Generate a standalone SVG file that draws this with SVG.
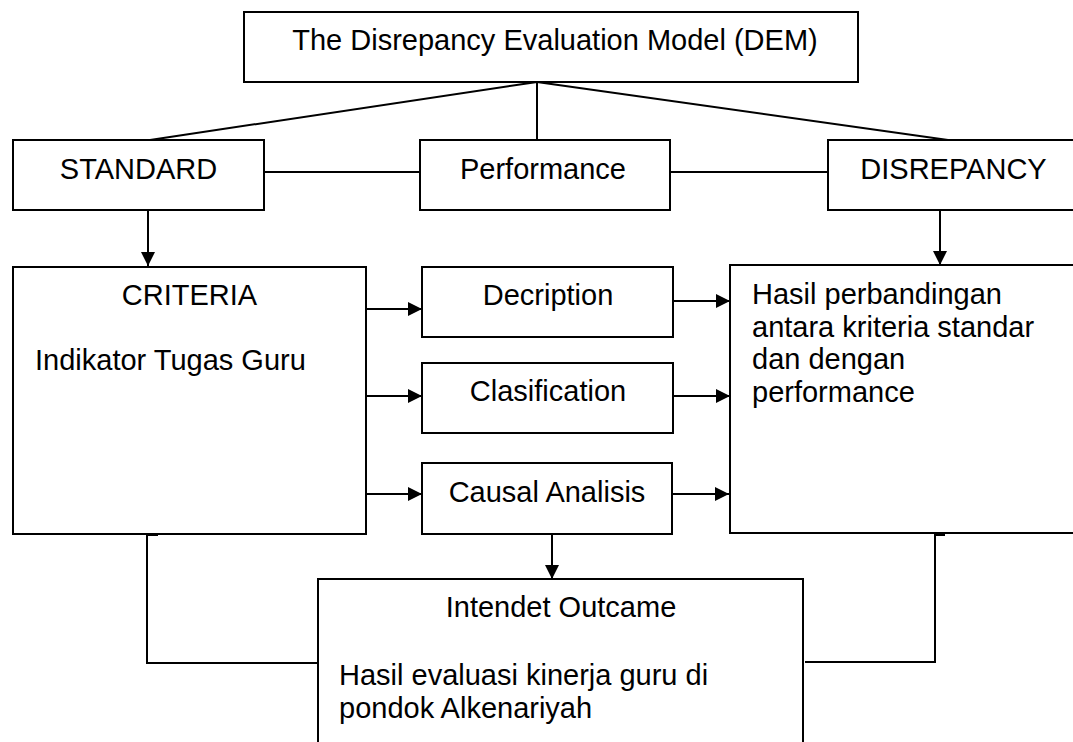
<svg xmlns="http://www.w3.org/2000/svg" width="1073" height="742" viewBox="0 0 1073 742">
<defs>
<style>
.box{fill:#fff;stroke:#000;stroke-width:2}
.ln{fill:none;stroke:#000;stroke-width:2}
.ar{fill:none;stroke:#000;stroke-width:2;marker-end:url(#ah)}
text{font-family:"Liberation Sans",Arial,sans-serif;font-size:29px;fill:#000}
.c{text-anchor:middle}
</style>
<marker id="ah" viewBox="0 0 14 14" refX="14" refY="7" markerWidth="14" markerHeight="14" markerUnits="userSpaceOnUse" orient="auto">
<path d="M0,0 L14,7 L0,14 Z" fill="#000"/>
</marker>
</defs>
<rect width="1073" height="742" fill="#fff"/>
<g id="connectors">
<line class="ln" x1="537" y1="82" x2="150" y2="140"/>
<line class="ln" x1="537" y1="82" x2="537" y2="140"/>
<line class="ln" x1="537" y1="82" x2="948" y2="140"/>
<line class="ln" x1="264" y1="172" x2="422" y2="172"/>
<line class="ln" x1="670" y1="172" x2="828" y2="172"/>
<line class="ar" x1="148" y1="210" x2="148" y2="266"/>
<line class="ar" x1="940" y1="210" x2="940" y2="265"/>
<line class="ar" x1="366" y1="309" x2="422" y2="309"/>
<line class="ar" x1="366" y1="396" x2="422" y2="396"/>
<line class="ar" x1="366" y1="494" x2="422" y2="494"/>
<line class="ar" x1="673" y1="301" x2="730" y2="301"/>
<line class="ar" x1="673" y1="396" x2="730" y2="396"/>
<line class="ar" x1="672" y1="494" x2="729" y2="494"/>
<line class="ar" x1="552" y1="534" x2="552" y2="579"/>
<path class="ln" d="M158,535 H147 V663 H318"/>
<path class="ln" d="M945,535 H935 V662 H805"/>
</g>
<g id="dem">
<rect class="box" x="244" y="12" width="614" height="70"/>
<text class="c" x="555" y="50">The Disrepancy Evaluation Model (DEM)</text>
</g>
<g id="standard">
<rect class="box" x="13" y="140" width="251" height="70"/>
<text class="c" x="138.5" y="179">STANDARD</text>
</g>
<g id="performance">
<rect class="box" x="420" y="140" width="250" height="70"/>
<text class="c" x="543" y="179">Performance</text>
</g>
<g id="disrepancy">
<rect class="box" x="828" y="140" width="252" height="70"/>
<text class="c" x="953.5" y="179">DISREPANCY</text>
</g>
<g id="criteria">
<rect class="box" x="13" y="267" width="353" height="267"/>
<text class="c" x="189.5" y="305">CRITERIA</text>
<text x="35" y="370">Indikator Tugas Guru</text>
</g>
<g id="decription">
<rect class="box" x="422" y="267" width="251" height="70"/>
<text class="c" x="548" y="305">Decription</text>
</g>
<g id="clasification">
<rect class="box" x="422" y="363" width="251" height="70"/>
<text class="c" x="548" y="401">Clasification</text>
</g>
<g id="causal">
<rect class="box" x="422" y="463" width="250" height="71"/>
<text class="c" x="547" y="502">Causal Analisis</text>
</g>
<g id="hasil">
<rect class="box" x="730" y="265" width="350" height="268"/>
<text x="752" y="304">Hasil perbandingan</text>
<text x="752" y="336.5">antara kriteria standar</text>
<text x="752" y="369">dan dengan</text>
<text x="752" y="401.5">performance</text>
</g>
<g id="outcome">
<rect class="box" x="318" y="579" width="485" height="175"/>
<text class="c" x="561" y="617">Intendet Outcame</text>
<text x="339" y="685">Hasil evaluasi kinerja guru di</text>
<text x="339" y="718">pondok Alkenariyah</text>
</g>
</svg>
